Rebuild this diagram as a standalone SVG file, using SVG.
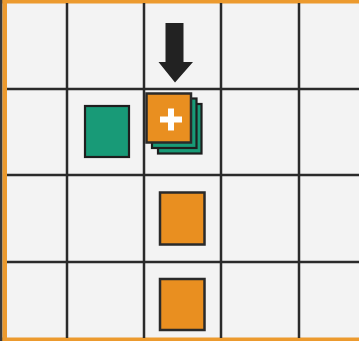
<svg xmlns="http://www.w3.org/2000/svg" width="359" height="341" viewBox="0 0 359 341">
<style>
.grid{stroke:#2a2a2a;stroke-width:2.5;fill:none}
.orange{fill:#e98f20;stroke:#2a2a2a;stroke-width:2.5}
.green{fill:#189a77;stroke:#1e1e1e;stroke-width:2.2}
</style>
<rect x="0" y="0" width="359" height="341" fill="#f3f3f3"/>
<g id="frame">
<rect x="0" y="0" width="359" height="3.5" fill="#ec9a2e"/>
<rect x="0" y="337.5" width="359" height="3.5" fill="#ec9a2e"/>
<rect x="0" y="0" width="2.5" height="341" fill="#3a3a3a"/>
<rect x="2.5" y="0" width="4.5" height="341" fill="#ec9a2e"/>
</g>
<g id="grid" class="grid">
<line x1="67" y1="3" x2="67" y2="338"/>
<line x1="144" y1="3" x2="144" y2="338"/>
<line x1="221" y1="3" x2="221" y2="338"/>
<line x1="299" y1="3" x2="299" y2="338"/>
<line x1="7" y1="89" x2="359" y2="89"/>
<line x1="7" y1="175" x2="359" y2="175"/>
<line x1="7" y1="262" x2="359" y2="262"/>
</g>
<g id="arrow">
<polygon points="165.5,23 183.5,23 183.5,62 193,62 175,82.5 158.5,62 165.5,62" fill="#222"/>
</g>
<g id="green-square">
<rect class="green" x="85" y="106" width="44" height="51"/>
</g>
<g id="stack">
<rect class="green" x="158" y="104" width="43.5" height="49.5"/>
<rect class="green" x="152" y="98.5" width="44.5" height="49.5"/>
<rect class="orange" x="146.5" y="93.5" width="44.5" height="49"/>
<rect x="160" y="116.5" width="22" height="6" fill="#fff"/>
<rect x="168" y="108.5" width="6" height="22" fill="#fff"/>
</g>
<g id="orange-1">
<rect class="orange" x="160" y="192.5" width="44.5" height="52"/>
</g>
<g id="orange-2">
<rect class="orange" x="160" y="279" width="44.5" height="51"/>
</g>
</svg>
